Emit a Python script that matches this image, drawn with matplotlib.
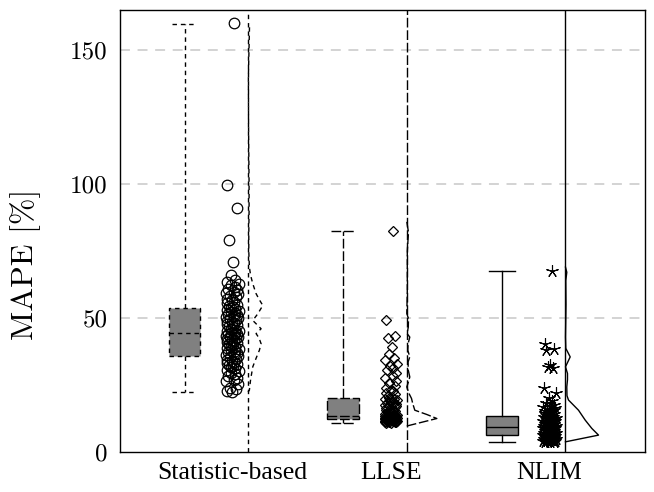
import numpy as np
import matplotlib
matplotlib.use("Agg")
import matplotlib.pyplot as plt

categories = ["Statistic-based", "LLSE", "NLIM"]
y_ticks = [0, 50, 100, 150]
y_label = "MAPE [%]"

# Box statistics (whiskers at min / max)
box_q1 = [35.8, 12.3, 6.2]
box_med = [44.3, 13.4, 9.4]
box_q3 = [53.6, 20.1, 13.4]
box_lo = [22.4, 10.9, 3.7]
box_hi = [159.8, 82.4, 67.5]

# Individual values
stat_values = [22.4, 22.9, 23.5, 24.0, 25.2, 26.5, 27.0, 27.8, 28.5, 29.0, 29.6, 30.1, 30.7,
               31.2, 31.6, 32.0, 32.5, 33.0, 33.3, 33.7, 34.1, 34.5, 34.9, 35.3, 35.7,
               36.2, 36.6, 37.0, 37.4, 37.8, 38.1, 38.5, 38.9, 39.2, 39.6, 40.0, 40.3, 40.7,
               41.0, 41.4, 41.7, 42.1, 42.4, 42.8, 43.1, 43.4, 43.7, 43.9, 44.1, 44.3,
               44.6, 45.0, 45.3, 45.7, 46.1, 46.5, 46.9, 47.3, 47.6, 48.0, 48.4, 48.8, 49.2,
               49.6, 50.0, 50.4, 50.8, 51.2, 51.6, 52.0, 52.4, 52.7, 53.0, 53.3, 53.6,
               54.0, 54.5, 55.0, 55.5, 56.0, 56.6, 57.1, 57.7, 58.2, 58.8, 59.3, 59.9, 60.5,
               61.0, 61.6, 62.2, 62.8, 63.5, 64.3, 66.2, 70.8, 79.2, 90.9, 99.6, 160.0]
llse_values = [10.9, 11.0, 11.1, 11.2, 11.25, 11.3, 11.4, 11.45, 11.5, 11.55, 11.6, 11.65, 11.7,
               11.75, 11.8, 11.85, 11.9, 11.95, 12.0, 12.05, 12.1, 12.15, 12.2, 12.25, 12.3,
               12.35, 12.4, 12.45, 12.5, 12.55, 12.6, 12.65, 12.7, 12.75, 12.8, 12.85, 12.9,
               12.95, 13.0, 13.05, 13.1, 13.15, 13.2, 13.25, 13.3, 13.35, 13.4, 13.4, 13.45, 13.5,
               13.6, 13.8, 14.0, 14.2, 14.4, 14.6, 14.9, 15.2, 15.5, 15.8, 16.1, 16.4, 16.7,
               17.0, 17.3, 17.5, 17.8, 18.1, 18.4, 18.7, 19.0, 19.3, 19.6, 19.9, 20.1,
               20.5, 21.0, 21.5, 22.0, 22.6, 23.1, 24.0, 24.8, 25.7, 26.5, 27.5, 28.5, 29.4,
               30.5, 31.2, 32.0, 33.0, 34.2, 35.0, 36.7, 39.2, 42.4, 43.2, 49.4, 82.4]
nlim_values = [3.7, 3.8, 3.9, 4.0, 4.1, 4.2, 4.3, 4.4, 4.5, 4.6, 4.7, 4.8, 4.9, 5.0, 5.1, 5.2,
               5.3, 5.4, 5.5, 5.6, 5.7, 5.8, 5.9, 6.0, 6.1,
               6.3, 6.4, 6.5, 6.7, 6.8, 6.9, 7.0, 7.2, 7.3, 7.4, 7.6, 7.7, 7.8, 8.0, 8.1, 8.2,
               8.4, 8.5, 8.6, 8.8, 8.9, 9.0, 9.1, 9.2, 9.3,
               9.5, 9.6, 9.8, 9.9, 10.0, 10.2, 10.3, 10.5, 10.6, 10.8, 10.9, 11.1, 11.2, 11.4,
               11.5, 11.7, 11.8, 12.0, 12.2, 12.4, 12.6, 12.8, 13.0, 13.2, 13.4,
               13.6, 13.9, 14.2, 14.5, 14.8, 15.1, 15.4, 15.7, 16.0, 16.3, 16.7, 17.0, 17.5,
               18.2, 19.0, 20.0, 22.0, 23.8, 31.2, 31.8, 32.4, 38.0, 38.6, 40.4, 67.5]

# Density profiles (value, relative density)
stat_dens_y = [22.4, 23.1, 27.0, 31.8, 35.0, 38.0, 40.4, 42.5, 44.2, 46.0, 47.5, 49.1, 51.6,
               54.7, 57.0, 59.1, 62.8, 66.0, 69.0, 75.0, 81.5, 90.0, 100.0, 120.0, 140.0, 160.0]
stat_dens_w = [0.0, 1.3, 2.5, 4.7, 8.0, 11.3, 13.0, 11.0, 8.0, 13.0, 9.0, 4.7, 9.7,
               14.7, 11.0, 8.0, 4.7, 2.5, 1.3, 0.7, 0.7, 1.0, 1.0, 0.5, 0.3, 1.5]
llse_dens_y = [9.7, 12.5, 14.0, 15.6, 18.0, 20.0, 22.0, 24.3, 26.0, 28.0, 30.5, 33.6, 35.5,
               38.0, 40.4, 42.9, 44.2, 46.6, 49.8, 51.7, 60.0, 75.0, 82.0, 86.0]
llse_dens_w = [0.0, 30.0, 20.0, 8.0, 6.0, 4.7, 2.0, 0.0, 1.5, 3.0, 1.5, 1.3, 3.0,
               1.0, 1.3, 3.0, 0.3, 1.5, 1.7, 0.0, 0.5, 0.5, 1.7, 0.0]
nlim_dens_y = [3.8, 6.3, 8.8, 11.9, 15.6, 17.5, 19.4, 21.0, 24.3, 27.0, 29.3, 31.8, 35.5,
               38.7, 42.9, 55.0, 64.0, 67.1, 69.0]
nlim_dens_w = [0.0, 33.0, 26.3, 19.7, 13.0, 8.0, 3.0, 1.5, 1.3, 2.0, 2.0, 0.0, 4.7,
               0.3, 0.0, 0.5, 0.3, 1.3, 0.0]

values = [stat_values, llse_values, nlim_values]
dens_y = [stat_dens_y, llse_dens_y, nlim_dens_y]
dens_w = [stat_dens_w, llse_dens_w, nlim_dens_w]

# ---- style ----
SHORT = (0, (3.2, 2.8))
LONG = (0, (7.0, 2.0))
styles = [SHORT, LONG, "-"]
markers = [dict(marker="o", ms=7.6, mew=0.9),
           dict(marker="D", ms=5.4, mew=0.9),
           dict(marker=(5, 2, 0), ms=9.0, mew=0.8)]
jitter = [0.0, -0.03, 0.025, -0.015, 0.035, -0.04, 0.01, 0.03, -0.025, 0.015,
          -0.005, 0.04, -0.035, 0.02, -0.01, 0.005, -0.02, 0.028, -0.032, 0.012]

fig = plt.figure(figsize=(6.54, 4.92), dpi=100)
ax = fig.add_axes([0.1835, 0.0813, 0.8025, 0.8984])

px_per_unit = 158.5
positions = np.arange(1, len(categories) + 1)

for i, pos in enumerate(positions):
    ls = styles[i]
    stats = [dict(med=box_med[i], q1=box_q1[i], q3=box_q3[i],
                  whislo=box_lo[i], whishi=box_hi[i], fliers=[])]
    ax.bxp(stats, positions=[pos - 0.3], widths=0.2, capwidths=0.16,
           patch_artist=True, showfliers=False,
           boxprops=dict(facecolor="#808080", edgecolor="black", linestyle=ls, linewidth=1.0),
           whiskerprops=dict(color="black", linestyle=ls, linewidth=1.0),
           capprops=dict(color="black", linestyle=ls, linewidth=1.0),
           medianprops=dict(color="black", linestyle=ls, linewidth=1.0),
           manage_ticks=False, zorder=3)
    v = np.array(values[i])
    x = pos + np.resize(np.array(jitter), v.size)
    ax.plot(x, v, linestyle="none", mfc="none", mec="black", zorder=4, **markers[i])
    base = pos + 0.1
    ax.axvline(base, color="black", linestyle=ls, linewidth=1.0, zorder=3)
    ax.plot(base + np.array(dens_w[i]) / px_per_unit, dens_y[i], color="black",
            linestyle=ls, linewidth=1.0, zorder=3)

ax.set_xlim(0.293, 3.6)
ax.set_ylim(0, 165)
ax.set_yticks(y_ticks)
ax.set_yticklabels([str(t) for t in y_ticks], fontfamily="cmr10", fontsize=18)
ax.set_xticks(positions)
ax.set_xticklabels(categories, fontfamily="Liberation Serif", fontsize=18.5)
ax.tick_params(axis="both", length=0)
ax.tick_params(axis="y", pad=9)
ax.tick_params(axis="x", pad=7)
for yv in y_ticks[1:]:
    ax.axhline(yv, color="#c8c8c8", linestyle=(0, (6.5, 5.0)), linewidth=1.1, zorder=1)
for sp in ax.spines.values():
    sp.set_linewidth(1.0)
    sp.set_color("black")
ax.set_ylabel(y_label, fontfamily="cmr10", fontsize=23)
ax.yaxis.set_label_coords(-0.15, 0.425)

fig.savefig("out.png", dpi=100)
